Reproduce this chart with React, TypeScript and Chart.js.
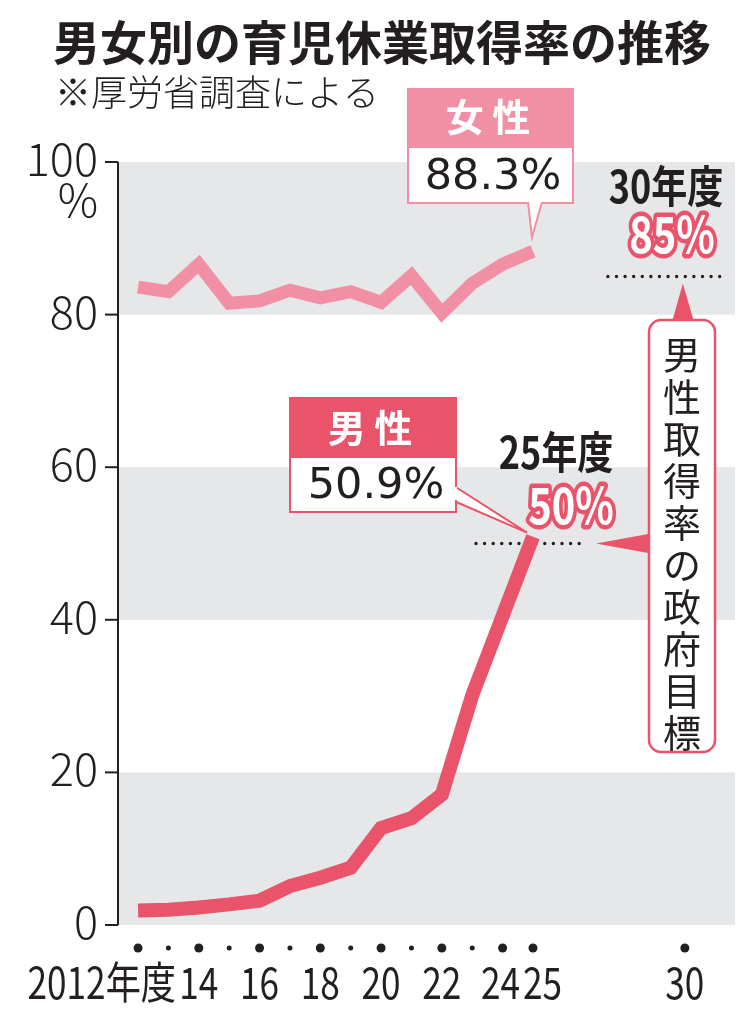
import React, { useEffect, useRef } from 'react';
import { Chart, registerables } from 'chart.js';

Chart.register(...registerables);

// 年度ごとの育児休業取得率（%）
const years = [2012, 2013, 2014, 2015, 2016, 2017, 2018, 2019, 2020, 2021, 2022, 2023, 2024, 2025];
const femaleRates = [83.6, 83.0, 86.6, 81.5, 81.8, 83.2, 82.2, 83.0, 81.6, 85.1, 80.2, 84.1, 86.6, 88.3];
const maleRates = [1.9, 2.0, 2.3, 2.7, 3.2, 5.1, 6.2, 7.5, 12.7, 14.0, 17.1, 30.1, 40.5, 50.9];

// 軸
const yTicks = [0, 20, 40, 60, 80, 100];
const xDotYears = [2012, 2013, 2014, 2015, 2016, 2017, 2018, 2019, 2020, 2021, 2022, 2023, 2024, 2025, 2030];
const xLabelYears = [2012, 2014, 2016, 2018, 2020, 2022, 2024, 2025, 2030];
const xLabelTexts = ['2012年度', '14', '16', '18', '20', '22', '24', '25', '30'];
const bandStarts = [0, 40, 80];

// 政府目標
const targetYears = [2025, 2030];
const targetRates = [50, 85];

const FEMALE = '#f18fa4';
const MALE = '#e9546a';
const GRAY = '#e6e7e8';
const INK = '#231f20';
const JP = '"Noto Sans CJK JP", "Noto Sans", sans-serif';

// condensed text: no narrow face is installed, so squeeze horizontally
function narrowText(ctx: CanvasRenderingContext2D, text: string, x: number, y: number, align: CanvasTextAlign, sx = 0.8, stroke = 0) {
  ctx.save();
  ctx.translate(x, y);
  ctx.scale(sx, 1);
  ctx.textAlign = align;
  if (stroke) {
    ctx.lineJoin = 'round';
    ctx.lineWidth = stroke;
    ctx.strokeText(text, 0, 0);
  }
  ctx.fillText(text, 0, 0);
  ctx.restore();
}

const decorPlugin = {
  id: 'decor',
  beforeDatasetsDraw(chart: any) {
    const { ctx, chartArea } = chart;
    const xs = chart.scales.x;
    const ys = chart.scales.y;
    ctx.save();

    // gray bands
    ctx.fillStyle = GRAY;
    bandStarts.forEach((b) => {
      const top = ys.getPixelForValue(b + 20);
      const bot = ys.getPixelForValue(b);
      ctx.fillRect(chartArea.left, top, chartArea.right - chartArea.left, bot - top);
    });

    // y axis line and ticks
    ctx.strokeStyle = INK;
    ctx.lineWidth = 2;
    ctx.beginPath();
    ctx.moveTo(chartArea.left, ys.getPixelForValue(100));
    ctx.lineTo(chartArea.left, ys.getPixelForValue(0));
    ctx.stroke();
    ctx.fillStyle = INK;
    ctx.font = `300 45px ${JP}`;
    ctx.textAlign = 'right';
    ctx.textBaseline = 'middle';
    yTicks.forEach((t) => {
      const y = ys.getPixelForValue(t);
      ctx.beginPath();
      ctx.moveTo(chartArea.left - 13, y);
      ctx.lineTo(chartArea.left, y);
      ctx.stroke();
      ctx.fillText(String(t), chartArea.left - 20, y - 3);
    });
    ctx.fillText('%', chartArea.left - 20, ys.getPixelForValue(100) + 38);

    // x axis dots and labels
    xDotYears.forEach((yr) => {
      const big = yr % 2 === 0 || yr === 2025 || yr === 2030;
      ctx.beginPath();
      ctx.arc(xs.getPixelForValue(yr), chartArea.bottom + 23, big ? 4.5 : 2.5, 0, Math.PI * 2);
      ctx.fill();
    });
    ctx.font = `44px ${JP}`;
    xLabelYears.forEach((yr, i) => {
      const x = xs.getPixelForValue(yr);
      const y = chartArea.bottom + 57;
      if (yr === 2012) narrowText(ctx, xLabelTexts[i], x + 38, y, 'right');
      else if (yr === 2024) narrowText(ctx, xLabelTexts[i], x - 2, y, 'center');
      else if (yr === 2025) narrowText(ctx, xLabelTexts[i], x - 10, y, 'left');
      else narrowText(ctx, xLabelTexts[i], x, y, 'center');
    });

    // dotted target lines
    ctx.lineWidth = 3.4;
    ctx.lineCap = 'round';
    ctx.setLineDash([0, 8.6]);
    const spans = [[-57, 54], [-77, 43]];
    targetYears.forEach((yr, i) => {
      const x = xs.getPixelForValue(yr);
      const y = ys.getPixelForValue(targetRates[i]);
      ctx.beginPath();
      ctx.moveTo(x + spans[i][0], y);
      ctx.lineTo(x + spans[i][1], y);
      ctx.stroke();
    });
    ctx.setLineDash([]);
    ctx.restore();
  },
  afterDatasetsDraw(chart: any) {
    const { ctx } = chart;
    const xs = chart.scales.x;
    const ys = chart.scales.y;
    const last = years.length - 1;
    const px = xs.getPixelForValue(years[last]);
    ctx.save();

    // title
    ctx.fillStyle = INK;
    ctx.textBaseline = 'middle';
    ctx.textAlign = 'center';
    ctx.font = `bold 47px ${JP}`;
    ctx.fillText('男女別の育児休業取得率の推移', 382, 42);
    ctx.textAlign = 'left';
    ctx.font = `300 36px ${JP}`;
    ctx.fillText('※厚労省調査による', 55, 92);

    // female label
    const fy = ys.getPixelForValue(femaleRates[last]);
    ctx.lineWidth = 2;
    ctx.strokeStyle = FEMALE;
    ctx.fillStyle = '#fff';
    ctx.beginPath();
    ctx.moveTo(528, 202);
    ctx.lineTo(px - 1, fy - 14);
    ctx.lineTo(542, 202);
    ctx.closePath();
    ctx.fill();
    ctx.stroke();
    ctx.fillRect(408, 148, 165, 55);
    ctx.fillStyle = FEMALE;
    ctx.fillRect(408, 89, 165, 59);
    ctx.strokeRect(408, 89, 165, 114);
    ctx.fillStyle = '#fff';
    ctx.fillRect(529, 200, 12, 4);
    ctx.textAlign = 'center';
    ctx.font = `bold 38px ${JP}`;
    ctx.fillText('女 性', 488, 117);
    ctx.fillStyle = INK;
    ctx.font = '43px "DejaVu Sans", sans-serif';
    ctx.fillText(`${femaleRates[last]}%`, 493, 178);

    // male label
    const my = ys.getPixelForValue(maleRates[last]);
    ctx.strokeStyle = MALE;
    ctx.fillStyle = '#fff';
    ctx.beginPath();
    ctx.moveTo(454, 486);
    ctx.lineTo(px - 6, my - 4);
    ctx.lineTo(454, 501);
    ctx.closePath();
    ctx.fill();
    ctx.stroke();
    ctx.fillRect(290, 458, 166, 54);
    ctx.fillStyle = MALE;
    ctx.fillRect(290, 398, 166, 60);
    ctx.strokeRect(290, 398, 166, 114);
    ctx.fillStyle = '#fff';
    ctx.fillRect(452, 487, 5, 13);
    ctx.font = `bold 38px ${JP}`;
    ctx.fillText('男 性', 370, 428);
    ctx.fillStyle = INK;
    ctx.font = '43px "DejaVu Sans", sans-serif';
    ctx.fillText(`${maleRates[last]}%`, 376, 487);

    // target texts
    const outlined = (text: string, x: number, y: number) => {
      ctx.font = `bold 50px ${JP}`;
      ctx.strokeStyle = MALE;
      ctx.fillStyle = '#fff';
      narrowText(ctx, text, x, y, 'center', 0.8, 9);
    };
    ctx.fillStyle = INK;
    ctx.font = `bold 44px ${JP}`;
    narrowText(ctx, '30年度', 666, 186, 'center', 0.82);
    outlined(`${targetRates[1]}%`, 672, 234);
    ctx.fillStyle = INK;
    ctx.font = `bold 44px ${JP}`;
    narrowText(ctx, '25年度', 556, 452, 'center', 0.82);
    outlined(`${targetRates[0]}%`, 571, 505);

    // target callout
    const t30 = ys.getPixelForValue(targetRates[1]);
    const t25 = ys.getPixelForValue(targetRates[0]);
    const t25x = xs.getPixelForValue(targetYears[0]);
    ctx.fillStyle = MALE;
    ctx.beginPath();
    ctx.moveTo(672, 322);
    ctx.lineTo(xs.getPixelForValue(targetYears[1]) - 2, t30 + 7);
    ctx.lineTo(694, 322);
    ctx.closePath();
    ctx.fill();
    ctx.beginPath();
    ctx.moveTo(651, t25 - 10);
    ctx.lineTo(t25x + 63, t25);
    ctx.lineTo(651, t25 + 10);
    ctx.closePath();
    ctx.fill();
    ctx.beginPath();
    ctx.roundRect(649, 320, 66, 432, 12);
    ctx.fillStyle = '#fff';
    ctx.fill();
    ctx.strokeStyle = MALE;
    ctx.lineWidth = 2.5;
    ctx.stroke();
    ctx.fillStyle = INK;
    ctx.textAlign = 'center';
    ctx.font = `38px ${JP}`;
    Array.from('男性取得率の政府目標').forEach((ch, i) => {
      ctx.fillText(ch, 682, 355 + i * 42);
    });
    ctx.restore();
  },
};

export default function App() {
  const canvasRef = useRef<HTMLCanvasElement>(null);
  const chartRef = useRef<Chart | null>(null);

  useEffect(() => {
    document.body.style.margin = '0';
    if (!canvasRef.current) return;
    if (chartRef.current) chartRef.current.destroy();

    chartRef.current = new Chart(canvasRef.current, {
      type: 'line',
      data: {
        datasets: [
          {
            label: '女性',
            data: years.map((x, i) => ({ x, y: femaleRates[i] })),
            borderColor: FEMALE,
            borderWidth: 13,
            borderJoinStyle: 'miter',
            pointRadius: 0,
            tension: 0,
          },
          {
            label: '男性',
            data: years.map((x, i) => ({ x, y: maleRates[i] })),
            borderColor: MALE,
            borderWidth: 14,
            borderJoinStyle: 'miter',
            pointRadius: 0,
            tension: 0,
          },
        ],
      },
      options: {
        responsive: false,
        animation: false,
        layout: { padding: { left: 118, right: 15, top: 162, bottom: 99 } },
        plugins: { legend: { display: false }, tooltip: { enabled: false } },
        scales: {
          x: { type: 'linear', display: false, min: 2011.34, max: 2031.65 },
          y: { display: false, min: 0, max: 100 },
        },
      },
      plugins: [decorPlugin],
    });

    return () => {
      if (chartRef.current) {
        chartRef.current.destroy();
        chartRef.current = null;
      }
    };
  }, []);

  return (
    <div style={{ width: '750px', height: '1024px' }}>
      <canvas ref={canvasRef} width={750} height={1024}></canvas>
    </div>
  );
}
